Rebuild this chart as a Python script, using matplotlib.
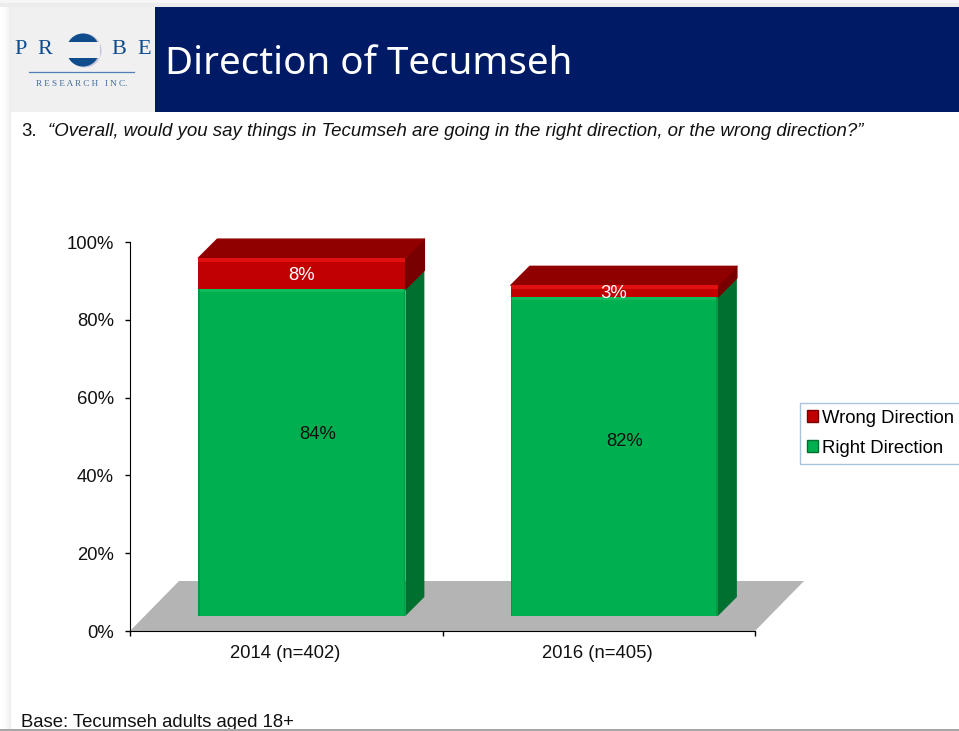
import numpy as np
import matplotlib
matplotlib.use("Agg")
import matplotlib.pyplot as plt
from matplotlib.patches import Polygon, Rectangle, Wedge

plt.rcParams['font.family'] = ['Liberation Sans', 'DejaVu Sans']

# data
years = ['2014 (n=402)', '2016 (n=405)']
right_direction = [84, 82]
wrong_direction = [8, 3]
y_ticks = [0, 20, 40, 60, 80, 100]

GREEN, GREEN_SIDE, GREEN_HI = '#00b050', '#007030', '#10bd5c'
RED, RED_SIDE, RED_TOP, RED_HI = '#c00000', '#780000', '#900000', '#e01010'
NAVY = '#001a66'
LOGO = '#0f4c8c'
FS = 13.3

W, H = 959, 731
fig = plt.figure(figsize=(W / 100, H / 100), dpi=100, facecolor='white')

# full figure axes in pixels for the slide furniture
bg = fig.add_axes([0, 0, 1, 1])
bg.set_xlim(0, W)
bg.set_ylim(H, 0)
bg.axis('off')

# soft slide shadow top and left
for i in range(11):
    bg.add_patch(Rectangle((i, 0), 1, H, fc=str(1 - 0.07 * (i / 10) ** 2), ec='none'))
bg.add_patch(Rectangle((0, 0), W, 7, fc='#ececec', ec='none'))
bg.add_patch(Rectangle((0, 0), W, 3, fc='#f6f6f6', ec='none'))

# header
bg.add_patch(Rectangle((11, 7), 144, 105, fc='#f0f0f0', ec='none'))
bg.add_patch(Rectangle((155, 7), W - 155, 105, fc=NAVY, ec='none'))
bg.text(165, 64, 'Direction of Tecumseh', color='white', fontsize=27.7,
        family=['Noto Sans', 'DejaVu Sans'], va='center', ha='left')

# logo
for letter, lx in zip('PRBE', [21, 45, 119, 144]):
    bg.text(lx, 49, letter, color=LOGO, fontsize=16, family=['Liberation Serif'], ha='center', va='center')
bg.add_patch(Wedge((84.5, 50.5), 17, 0, 360, fc='#c5c5dc', ec='none'))
bg.add_patch(Wedge((83, 50), 16.5, 0, 360, fc=LOGO, ec='none'))
bg.add_patch(Rectangle((66, 42), 33.5, 16, fc='#f0f0f0', ec='none'))
bg.plot([29, 134], [72, 72], color='#4f7fb5', lw=0.9)
bg.text(81.5, 84, 'R E S E A R C H   I N C.', color='#3d6a9e', fontsize=6.6, family=['Liberation Serif'],
        ha='center', va='center')

# question and base text
bg.text(21, 131, '3.', fontsize=FS, color='#111111', va='center')
bg.text(48, 131, '\u201cOverall, would you say things in Tecumseh are going in the right direction, or the wrong direction?\u201d',
        fontsize=13.4, style='italic', color='#111111', va='center')
bg.text(21, 727, 'Base: Tecumseh adults aged 18+', fontsize=FS, color='#111111', va='baseline')
bg.add_patch(Rectangle((0, 728.5), W, 3, fc='#a6a6a6', ec='none', zorder=5))

# chart axes: 0% at y=631, 100% at y=242, x from 130 to 755
ax = fig.add_axes([130 / W, (H - 631) / H, 625 / W, 389 / H])
ax.patch.set_alpha(0)
ax.set_xlim(0, 2)
ax.set_ylim(0, 100)
ax.set_yticks(y_ticks)
ax.set_yticklabels([str(t) + '%' for t in y_ticks], fontsize=FS, color='#111111')
ax.set_xticks([0, 1, 2])
ax.set_xticklabels([])
for pos, label in zip([0.5, 1.5], years):
    ax.annotate(label, (pos, 0), xytext=(-1, -23), textcoords='offset pixels', xycoords='data',
                ha='center', va='center', fontsize=FS, color='#111111', annotation_clip=False)
ax.tick_params(axis='both', length=3.6, width=1, color='black', pad=8)
for side in ['top', 'right']:
    ax.spines[side].set_visible(False)

ux = 2 / 625  # data units per pixel
uy = 100 / 389
floor_dx, floor_dy = 49 * ux, 50 * uy
ax.add_patch(Polygon([(0, 0), (floor_dx, floor_dy), (2 + floor_dx, floor_dy), (2, 0)],
                     fc='#b4b4b4', ec='none', clip_on=False, zorder=1))

centers = np.array([0.55, 1.55])
width = 207 * ux
base = 15 * uy
dx, dy = 19 * ux, 19 * uy

green = ax.bar(centers, right_direction, width, bottom=base, color=GREEN, zorder=3, label='Right Direction')
red = ax.bar(centers, wrong_direction, width, bottom=[base + r for r in right_direction],
             color=RED, zorder=3, label='Wrong Direction')

for c, r, w in zip(centers, right_direction, wrong_direction):
    x0, x1 = c - width / 2, c + width / 2
    g_top = base + r
    r_top = g_top + w
    # right side faces
    ax.add_patch(Polygon([(x1, base), (x1 + dx, base + dy), (x1 + dx, g_top + dy), (x1, g_top)],
                         fc=GREEN_SIDE, ec='none', zorder=2, clip_on=False))
    ax.add_patch(Polygon([(x1, g_top), (x1 + dx, g_top + dy), (x1 + dx, r_top + dy), (x1, r_top)],
                         fc=RED_SIDE, ec=RED_SIDE, lw=1, joinstyle='round', zorder=2, clip_on=False))
    # top face
    ax.add_patch(Polygon([(x0, r_top), (x0 + dx, r_top + dy), (x1 + dx, r_top + dy), (x1, r_top)],
                         fc=RED_TOP, ec=RED_TOP, lw=1, joinstyle='round', zorder=2, clip_on=False))
    # highlights along the front edges
    ax.add_patch(Rectangle((x0, r_top - 1.0), width, 1.0, fc=RED_HI, ec='none', zorder=4))
    ax.add_patch(Rectangle((x0, g_top - 0.8), width, 0.8, fc=GREEN_HI, ec='none', zorder=4))
    ax.add_patch(Rectangle((x1 - 1.5 * ux, base), 1.5 * ux, r, fc='#009a46', ec='none', zorder=4))
    ax.add_patch(Rectangle((x0, base), 1.5 * ux, r, fc='#009a46', ec='none', zorder=4))

# value labels, hand placed in the original
green_off = [(16, 18), (10, 15)]
for c, r, off in zip(centers, right_direction, green_off):
    ax.annotate(str(r) + '%', (c, base + r / 2), xytext=off, textcoords='offset pixels',
                ha='center', va='center', fontsize=FS, color='#111111', zorder=6)
red_off = [(0, -2), (-1, -2)]
for c, r, w, off in zip(centers, right_direction, wrong_direction, red_off):
    ax.annotate(str(w) + '%', (c, base + r + w / 2), xytext=off, textcoords='offset pixels',
                ha='center', va='center', fontsize=FS, color='white', zorder=6)

# legend, runs off the right edge like the original
leg = fig.legend([red[0], green[0]], ['Wrong Direction', 'Right Direction'],
                 loc='upper left', bbox_to_anchor=(800 / W, (H - 403) / H), bbox_transform=fig.transFigure,
                 fontsize=FS, frameon=True, fancybox=False, edgecolor='#a9c4de', framealpha=1,
                 handlelength=0.6, handleheight=0.6, handletextpad=0.2, labelspacing=0.7,
                 borderpad=0.37, borderaxespad=0)
leg.get_frame().set_linewidth(1)
leg.legend_handles[0].set_edgecolor(RED_SIDE)
leg.legend_handles[1].set_edgecolor(GREEN_SIDE)

fig.savefig('out.png', dpi=100)
